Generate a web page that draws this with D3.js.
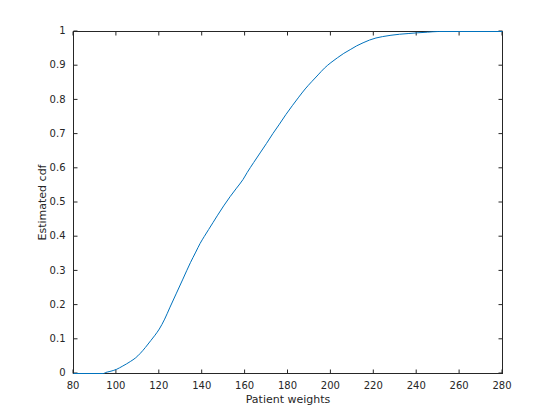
<!DOCTYPE html>
<html><head><meta charset="utf-8">
<script src="https://cdn.jsdelivr.net/npm/d3@7"></script>
<style>body{margin:0;background:#fff}svg{display:block}text{font-family:"DejaVu Sans",sans-serif}</style>
</head><body>
<script>
const weights = [80, 94, 95, 97, 100, 103, 106.5, 109, 111, 113.5, 116, 118, 120, 122.5, 125, 128, 131, 134.5, 137, 139, 141, 143, 145, 147, 150, 153, 156, 159, 161, 164, 167, 170, 173, 176, 179, 182, 185, 188, 191, 194, 197, 200, 203, 206, 209, 212, 215, 218, 221, 224, 228, 232, 236, 240, 245, 250, 280];
const cdf     = [0, 0, 0.003, 0.006, 0.012, 0.022, 0.035, 0.046, 0.058, 0.076, 0.096, 0.112, 0.130, 0.159, 0.194, 0.235, 0.276, 0.324, 0.355, 0.380, 0.401, 0.421, 0.441, 0.461, 0.490, 0.517, 0.542, 0.567, 0.588, 0.617, 0.645, 0.673, 0.702, 0.729, 0.757, 0.783, 0.808, 0.832, 0.853, 0.873, 0.893, 0.909, 0.923, 0.936, 0.947, 0.958, 0.967, 0.975, 0.981, 0.985, 0.989, 0.992, 0.994, 0.996, 0.998, 1, 1];
const xTicks = [80, 100, 120, 140, 160, 180, 200, 220, 240, 260, 280];
const yTicks = [0, 0.1, 0.2, 0.3, 0.4, 0.5, 0.6, 0.7, 0.8, 0.9, 1];
const xLabel = "Patient weights";
const yLabel = "Estimated cdf";

const W = 560, H = 420;
const L = 73.5, R = 502.5, T = 31.5, B = 373.5;
const svg = d3.select("body").append("svg").attr("width", W).attr("height", H);
const x = d3.scaleLinear().domain([80, 280]).range([L, R]);
const y = d3.scaleLinear().domain([0, 1]).range([B, T]);
const axCol = "#262626";

function styleAxis(g) {
  g.select(".domain").remove();
  g.selectAll(".tick").attr("transform", function () {
    return this.getAttribute("transform");
  });
  g.selectAll(".tick line").attr("stroke", axCol);
  g.selectAll(".tick text").attr("fill", axCol).attr("font-size", 10).attr("font-family", "DejaVu Sans, sans-serif");
}
const fmtY = d => d === 0 ? "0" : d === 1 ? "1" : d3.format(".1f")(d);

svg.append("g").attr("transform", `translate(-0.5,${B})`)
  .call(d3.axisBottom(x).tickValues(xTicks).tickSizeInner(-4).tickSizeOuter(0).tickPadding(8).offset(0))
  .call(styleAxis);
svg.append("g").attr("transform", `translate(-0.5,${T})`)
  .call(d3.axisTop(x).tickValues(xTicks).tickSizeInner(-4).tickSizeOuter(0).tickFormat("").offset(0))
  .call(styleAxis);
svg.append("g").attr("transform", `translate(${L},-0.5)`)
  .call(d3.axisLeft(y).tickValues(yTicks).tickSizeInner(-4).tickSizeOuter(0).tickPadding(8).tickFormat(fmtY).offset(0))
  .call(styleAxis);
svg.append("g").attr("transform", `translate(${R},-0.5)`)
  .call(d3.axisRight(y).tickValues(yTicks).tickSizeInner(-4).tickSizeOuter(0).tickFormat("").offset(0))
  .call(styleAxis);

svg.append("rect").attr("x", L).attr("y", T).attr("width", R - L).attr("height", B - T)
  .attr("fill", "none").attr("stroke", axCol).attr("stroke-width", 1);

const line = d3.line().curve(d3.curveMonotoneX).x((d, i) => x(weights[i])).y(d => y(d));
svg.append("path").datum(cdf).attr("d", line).attr("fill", "none").attr("stroke", "#0072BD")
  .attr("stroke-width", 1);

svg.append("text").attr("x", (L + R) / 2).attr("y", 403).attr("text-anchor", "middle")
  .attr("font-size", 11).attr("fill", axCol).text(xLabel);
svg.append("text").attr("transform", `translate(46,${(T + B) / 2}) rotate(-90)`).attr("text-anchor", "middle")
  .attr("font-size", 11).attr("fill", axCol).text(yLabel);
</script>
</body></html>
